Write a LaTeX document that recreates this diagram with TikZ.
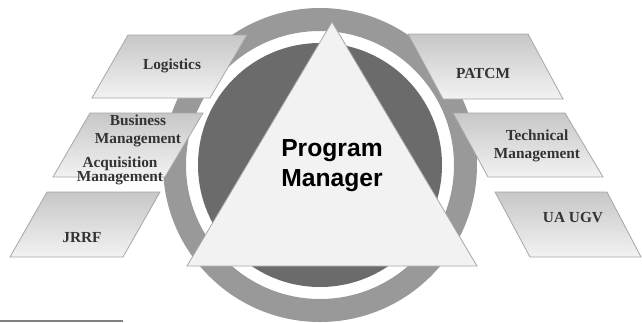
\documentclass[tikz,border=0pt]{standalone}
\usepackage{fontspec}
\setmainfont{Liberation Serif}
\newfontfamily\pmfont{Liberation Sans}

\tikzset{every picture/.style={line width=0.75pt}}
\tikzset{
  area/.style={draw=black!35, line width=0.6pt, top color=black!22, bottom color=black!5},
  lbl/.style={inner sep=0.75pt, align=center, text=black!80, font=\bfseries\fontsize{11.5}{13.5}\selectfont},
  pmlbl/.style={inner sep=0.75pt, align=center, font=\pmfont\bfseries\fontsize{18.5}{22.5}\selectfont}
}

\begin{document}
\begin{tikzpicture}[x=0.75pt,y=0.75pt,yscale=-1,xscale=1]
\useasboundingbox (0,0) rectangle (642,322);

% ring and inner disk
\fill [black!40, even odd rule] (320,165) circle (157) (320,165) circle (134);
\fill [black!58] (320,165) circle (122);

% left boxes
\draw [area] (128,35) -- (247,35) -- (210,98) -- (92,98) -- cycle;
\draw [area] (90,113) -- (203,113) -- (165,177) -- (53,177) -- cycle;
\draw [area] (47,192) -- (160,192) -- (123,257) -- (10,257) -- cycle;
% right boxes
\draw [area] (408,34) -- (528,34) -- (563,99) -- (443,99) -- cycle;
\draw [area] (453,113) -- (565,113) -- (603,177) -- (488,177) -- cycle;
\draw [area] (495,192) -- (607,192) -- (641,257) -- (530,257) -- cycle;

% triangle
\draw [draw=black!35, line width=0.6pt, fill=black!5] (332,22) -- (477,266) -- (187,266) -- cycle;

\node [pmlbl] (pm) at (332,166) {Program\\Manager};

\node [lbl] (logi) at (172,66) {Logistics};
\node [lbl] (busi) at (138,131) {Business\\Management};
\node [lbl, font=\bfseries\fontsize{11.5}{9.8}\selectfont] (acqu) at (120,171) {Acquisition\\Management};
\node [lbl] (jrrf) at (82,238) {JRRF};
\node [lbl] (patcm) at (483,73) {PATCM};
\node [lbl] (tech) at (537,146) {Technical\\Management};
\node [lbl] (uaugv) at (573,218) {UA UGV};

% footnote rule
\draw [black!50, line width=0.8pt] (0,321) -- (123,321);

\end{tikzpicture}
\end{document}
